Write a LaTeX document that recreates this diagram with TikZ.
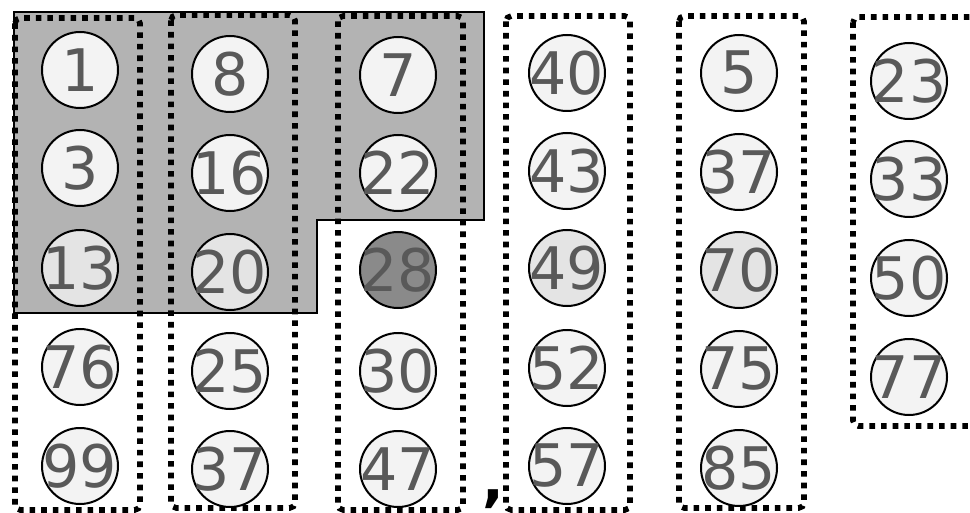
\documentclass[tikz,border=0pt]{standalone}
\usepackage{fontspec}
\setmainfont{DejaVu Sans}
\usetikzlibrary{positioning}
\definecolor{numgray}{HTML}{595959}
\definecolor{ballfill}{HTML}{F3F3F3}
\definecolor{ballmid}{HTML}{E4E4E4}
\definecolor{balldark}{HTML}{8A8A8A}
\definecolor{areagray}{HTML}{B3B3B3}
\newcommand{\num}[1]{\makebox[0pt]{#1}}

\begin{document}
\begin{tikzpicture}[x=0.75pt, y=-0.75pt,
  every node/.style={font=\fontsize{44}{44}\selectfont},
  ball/.style={circle,draw,line width=1.5pt,fill=ballfill,text=numgray,minimum size=57pt,inner sep=0pt},
  midball/.style={ball,fill=ballmid},
  darkball/.style={ball,fill=balldark},
  bucket/.style={draw,line width=4.2pt,dash pattern=on 4.2pt off 4.5pt,rounded corners=4pt}]
\clip (0,0) rectangle (970,513);
\useasboundingbox (0,0) rectangle (970,513);
% shaded area
\draw[fill=areagray,line width=1.5pt] (14,12) -- (484,12) -- (484,220) -- (317,220) -- (317,313) -- (14,313) -- cycle;
% buckets
\draw[bucket] (15,18) rectangle (140,510);
\draw[bucket] (171,15) rectangle (295,508);
\draw[bucket] (338,16) rectangle (463,510);
\draw[bucket] (506,16) rectangle (630,510);
\draw[bucket] (679,16) rectangle (804,508);
\draw[bucket] (853,17) rectangle (990,426);
% column 1
\node[ball] (a1) at (80,70) {\num{1}};
\node[ball] (a2) at (80,168) {\num{3}};
\node[midball] (a3) at (80,268) {\num{13}};
\node[ball] (a4) at (80,367) {\num{76}};
\node[ball] (a5) at (80,466) {\num{99}};
% column 2
\node[ball] (b1) at (230,74) {\num{8}};
\node[ball] (b2) at (230,173) {\num{16}};
\node[midball] (b3) at (230,272) {\num{20}};
\node[ball] (b4) at (230,371) {\num{25}};
\node[ball] (b5) at (230,469) {\num{37}};
% column 3
\node[ball] (c1) at (398,75) {\num{7}};
\node[ball] (c2) at (398,173) {\num{22}};
\node[darkball] (c3) at (398,270) {\num{28}};
\node[ball] (c4) at (398,371) {\num{30}};
\node[ball] (c5) at (398,469) {\num{47}};
% column 4
\node[ball] (d1) at (567,73) {\num{40}};
\node[ball] (d2) at (567,171) {\num{43}};
\node[midball] (d3) at (567,268) {\num{49}};
\node[ball] (d4) at (567,368) {\num{52}};
\node[ball] (d5) at (567,466) {\num{57}};
% column 5
\node[ball] (e1) at (739,73) {\num{5}};
\node[ball] (e2) at (739,172) {\num{37}};
\node[midball] (e3) at (739,270) {\num{70}};
\node[ball] (e4) at (739,369) {\num{75}};
\node[ball] (e5) at (739,468) {\num{85}};
% column 6
\node[ball] (f1) at (909,81) {\num{23}};
\node[ball] (f2) at (909,179) {\num{33}};
\node[ball] (f3) at (909,278) {\num{50}};
\node[ball] (f4) at (909,377) {\num{77}};
% separator
\node[anchor=base,font=\fontsize{43}{43}\selectfont\bfseries] (sep) at (493,500) {,};
\end{tikzpicture}
\end{document}
